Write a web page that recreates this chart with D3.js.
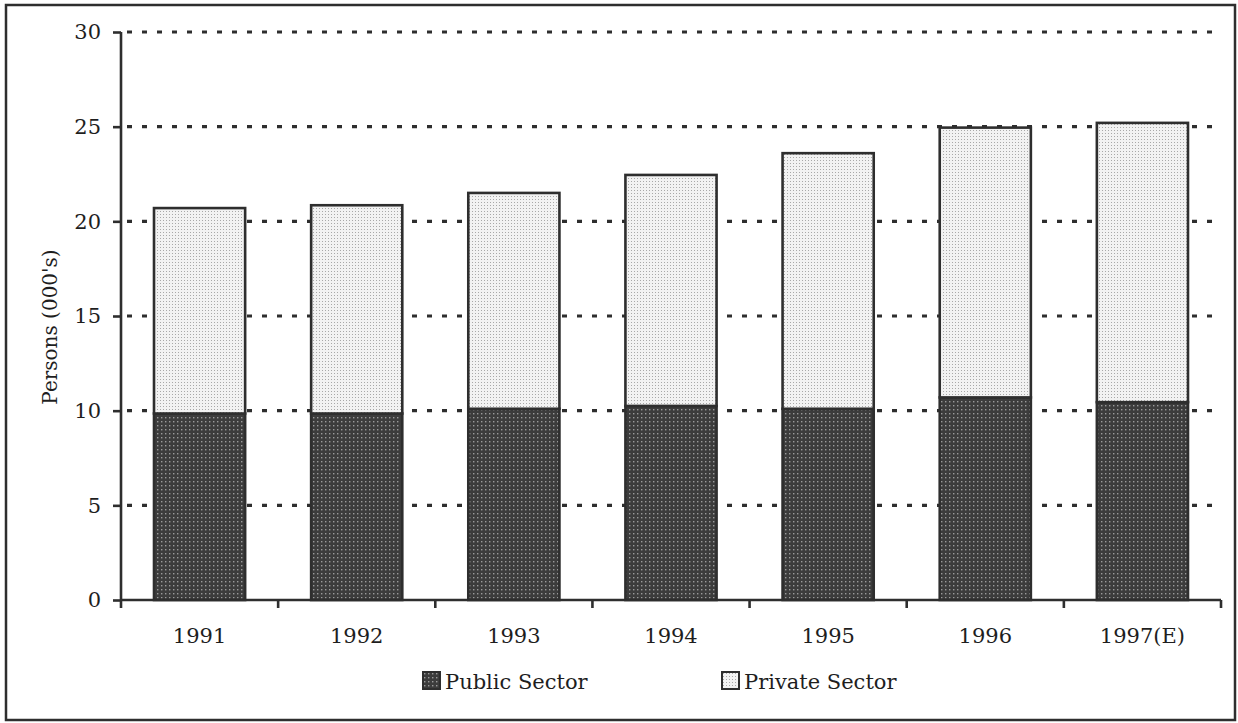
<!DOCTYPE html>
<html>
<head>
<meta charset="utf-8">
<script src="https://cdn.jsdelivr.net/npm/d3@7"></script>
<style>
  html, body { margin: 0; padding: 0; background: #fff; }
  svg { display: block; }
  text { font-family: "DejaVu Serif", serif; fill: #1e1e1e; }
</style>
</head>
<body>
<svg id="chart" width="1238" height="723"></svg>
<script>
// ---- data ----
const years = ["1991", "1992", "1993", "1994", "1995", "1996", "1997(E)"];
const publicSector = [9.85, 9.85, 10.1, 10.25, 10.1, 10.7, 10.45];
const privateSector = [10.85, 11.0, 11.4, 12.2, 13.5, 14.25, 14.75];
const seriesNames = ["Public Sector", "Private Sector"];
const yTicks = [0, 5, 10, 15, 20, 25, 30];
const yTitle = "Persons (000's)";

// ---- layout ----
const m = { left: 121, right: 1221, top: 32, bottom: 600 };
const FS = 21;
const svg = d3.select("#chart");
const ink = "#2e2e2e";

// patterns
const defs = svg.append("defs");
const pDark = defs.append("pattern").attr("id", "pubPat")
  .attr("width", 4).attr("height", 4).attr("patternUnits", "userSpaceOnUse");
pDark.append("rect").attr("width", 4).attr("height", 4).attr("fill", "#3c3c3c");
pDark.append("rect").attr("x", 1).attr("y", 1).attr("width", 1.4).attr("height", 1.4).attr("fill", "#9a9a9a");
const pLight = defs.append("pattern").attr("id", "privPat")
  .attr("width", 3).attr("height", 3).attr("patternUnits", "userSpaceOnUse");
pLight.append("rect").attr("width", 3).attr("height", 3).attr("fill", "#f2f2f2");
pLight.append("rect").attr("x", 1).attr("y", 1).attr("width", 1).attr("height", 1).attr("fill", "#a8a8a8");

// frame
svg.append("rect").attr("x", 6).attr("y", 5).attr("width", 1229).attr("height", 715)
  .attr("fill", "#fff").attr("stroke", ink).attr("stroke-width", 2.5);

// scales
const x = d3.scaleBand().domain(years).range([m.left, m.right])
  .paddingInner(0.42).paddingOuter(0.21);
const y = d3.scaleLinear().domain([0, 30]).range([m.bottom, m.top]);

// gridlines
svg.append("g").selectAll("line").data(yTicks.filter(d => d > 0)).join("line")
  .attr("x1", m.left + 6).attr("x2", m.right - 2)
  .attr("y1", d => y(d)).attr("y2", d => y(d))
  .attr("stroke", ink).attr("stroke-width", 3.2)
  .attr("stroke-dasharray", "5,10");

// stacked bars
const rows = years.map((yr, i) => ({ year: yr, pub: publicSector[i], priv: privateSector[i] }));
const stack = d3.stack().keys(["pub", "priv"])(rows);
const fills = ["url(#pubPat)", "url(#privPat)"];
svg.append("g").selectAll("g").data(stack).join("g")
  .attr("fill", (d, i) => fills[i])
  .selectAll("rect").data(d => d).join("rect")
  .attr("x", d => x(d.data.year))
  .attr("width", x.bandwidth())
  .attr("y", d => y(d[1]))
  .attr("height", d => y(d[0]) - y(d[1]))
  .attr("stroke", ink).attr("stroke-width", 2.6);

// y axis
const yAxis = d3.axisLeft(y).tickValues(yTicks).tickSize(8).tickPadding(12);
const gy = svg.append("g").attr("transform", `translate(${m.left},0)`).call(yAxis);
gy.select(".domain").attr("stroke", ink).attr("stroke-width", 2.6).attr("d", `M0,${m.top}V${m.bottom}`);
gy.selectAll(".tick line").attr("stroke", ink).attr("stroke-width", 2.6);
gy.selectAll(".tick text").attr("font-size", FS).attr("font-family", "DejaVu Serif").attr("fill", "#1e1e1e");

// x axis
const xAxis = d3.axisBottom(x).tickSize(0).tickPadding(28);
const gx = svg.append("g").attr("transform", `translate(0,${m.bottom})`).call(xAxis);
gx.select(".domain").attr("stroke", ink).attr("stroke-width", 2.6).attr("d", `M${m.left},0H${m.right}`);
gx.selectAll(".tick text").attr("font-size", FS).attr("font-family", "DejaVu Serif").attr("fill", "#1e1e1e");
// boundary ticks
const bounds = years.map(d => x(d) - x.step() * x.paddingInner() / 2).concat([m.right]);
bounds[0] = m.left;
gx.append("g").selectAll("line").data(bounds).join("line")
  .attr("x1", d => d).attr("x2", d => d).attr("y1", 0).attr("y2", 8)
  .attr("stroke", ink).attr("stroke-width", 2.6);

// y title
svg.append("text")
  .attr("transform", `translate(57,327) rotate(-90)`)
  .attr("text-anchor", "middle")
  .attr("font-size", FS - 1)
  .text(yTitle);

// legend
const legendX = [423, 722];
const legendFill = ["url(#pubPat)", "url(#privPat)"];
const lg = svg.append("g").selectAll("g").data(seriesNames).join("g")
  .attr("transform", (d, i) => `translate(${legendX[i]},672)`);
lg.append("rect").attr("width", 17).attr("height", 17)
  .attr("fill", (d, i) => legendFill[i]).attr("stroke", ink).attr("stroke-width", 2);
lg.append("text").attr("x", 22).attr("y", 17).attr("font-size", FS).text(d => d);
</script>
</body>
</html>
